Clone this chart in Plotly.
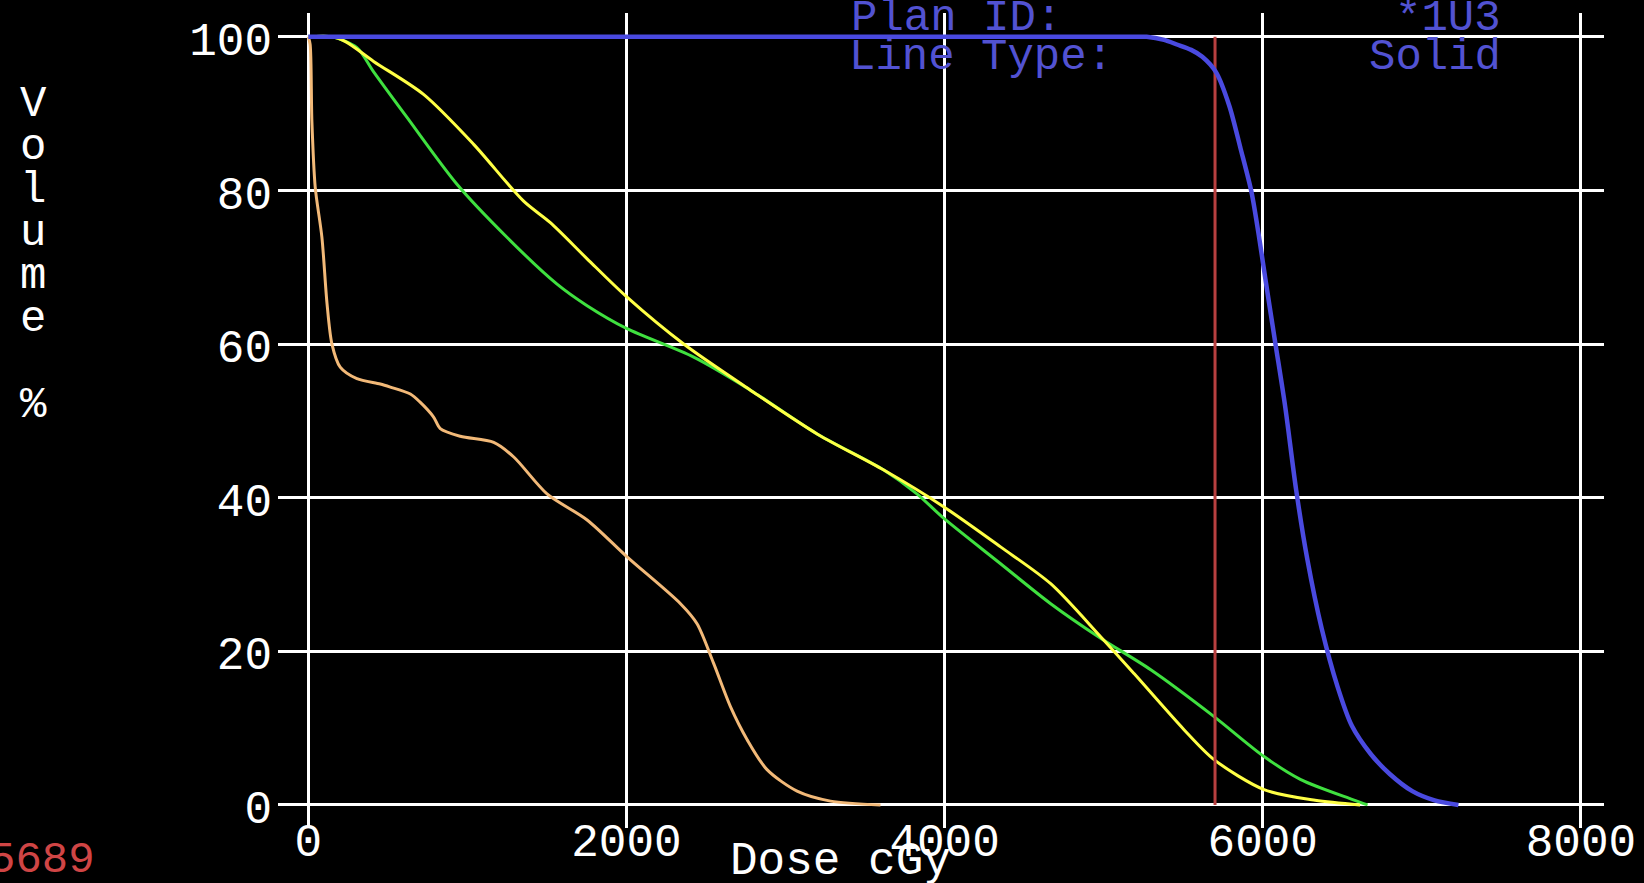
import plotly.graph_objects as go

# ---- data ----
x_ticks = [0, 2000, 4000, 6000, 8000]
y_ticks = [0, 20, 40, 60, 80, 100]

blue_x = [0, 4800, 5150, 5270, 5380, 5460, 5550, 5620, 5706, 5790, 5860, 5930, 5980, 6020, 6080, 6140, 6210, 6280, 6370, 6470, 6560, 6680, 6800, 6940, 7080, 7230]
blue_y = [100, 100, 100, 100, 99.6, 99, 98.3, 97.4, 95.4, 91, 85.5, 79.7, 73.5, 68, 60, 52, 41, 32, 23, 15.4, 10.3, 6.6, 4.0, 1.8, 0.6, 0]

yellow_x = [0, 150, 240, 411, 725, 1040, 1354, 1522, 1753, 2004, 2360, 2780, 3199, 3618, 3996, 4352, 4667, 4981, 5191, 5505, 5694, 6008, 6329, 6612]
yellow_y = [100, 100, 99.3, 96.8, 92.5, 86, 78.6, 75.8, 71.1, 66.1, 60, 54, 48.3, 43.6, 38.8, 33.6, 28.8, 21.9, 17.1, 9.8, 5.9, 2.0, 0.6, 0]

green_x = [0, 150, 306, 409, 621, 935, 1249, 1564, 1753, 2004, 2423, 2780, 3199, 3618, 3826, 3996, 4352, 4667, 4981, 5296, 5694, 6008, 6239, 6565, 6659]
green_y = [100, 100, 98.6, 95.5, 89.5, 80.8, 73.9, 67.8, 65, 62, 58.3, 54, 48.3, 43.6, 40.5, 37.3, 31.4, 26.2, 21.7, 17.6, 11.5, 6.3, 3.3, 0.7, 0]

orange_x = [0, 12, 23, 44, 86, 118, 149, 201, 306, 453, 516, 642, 700, 788, 830, 956, 1166, 1292, 1501, 1753, 2004, 2340, 2444, 2549, 2654, 2759, 2884, 3073, 3283, 3597]
orange_y = [100, 99, 89, 80.4, 73.9, 65.3, 60, 57, 55.5, 54.8, 54.4, 53.5, 52.5, 50.5, 49, 48, 47.2, 45.3, 40.5, 37.1, 32.3, 26.2, 23.6, 18.4, 12.8, 8.5, 4.6, 1.8, 0.5, 0]

ref_dose = [5700, 5700]
ref_vol = [0, 100]

y_title_chars = ["V", "o", "l", "u", "m", "e", "", "%"]

# ---- layout geometry ----
W, H = 1644, 883
ML, MR, MT, MB = 278, 40, 13, 55
PW, PH = W - ML - MR, H - MT - MB

def px(xp):
    return (xp - ML) / PW

def py(yp):
    return (H - MB - yp) / PH

FONT = "Liberation Mono"
BLUE_TXT = "#5252d2"

fig = go.Figure()
fig.add_trace(go.Scatter(x=orange_x, y=orange_y, mode="lines",
                         line=dict(color="#f2b978", width=3, shape="spline", smoothing=0.8)))
fig.add_trace(go.Scatter(x=green_x, y=green_y, mode="lines",
                         line=dict(color="#3fe03f", width=3, shape="spline", smoothing=0.8)))
fig.add_trace(go.Scatter(x=yellow_x, y=yellow_y, mode="lines",
                         line=dict(color="#ffff45", width=3, shape="spline", smoothing=0.8)))
fig.add_trace(go.Scatter(x=ref_dose, y=ref_vol, mode="lines",
                         line=dict(color="#b84040", width=3)))
fig.add_trace(go.Scatter(x=blue_x, y=blue_y, mode="lines",
                         line=dict(color="#4a4ae0", width=4.5, shape="spline", smoothing=0.8)))

anns = []
anns.append(dict(text="Plan ID:", x=px(849), y=py(18), xanchor="left", yanchor="middle",
                 font=dict(color=BLUE_TXT, size=44, family=FONT)))
anns.append(dict(text="Line Type:", x=px(847), y=py(57), xanchor="left", yanchor="middle",
                 font=dict(color=BLUE_TXT, size=44, family=FONT)))
anns.append(dict(text="*1U3", x=px(1503), y=py(18), xanchor="right", yanchor="middle",
                 font=dict(color=BLUE_TXT, size=44, family=FONT)))
anns.append(dict(text="Solid", x=px(1503), y=py(57), xanchor="right", yanchor="middle",
                 font=dict(color=BLUE_TXT, size=44, family=FONT)))
anns.append(dict(text="Dose cGy", x=px(840), y=py(862), xanchor="center", yanchor="middle",
                 font=dict(color="white", size=46, family=FONT)))
anns.append(dict(text="5689", x=px(97), y=py(860), xanchor="right", yanchor="middle",
                 font=dict(color="#d04545", size=44, family=FONT)))
for i, ch in enumerate(y_title_chars):
    if ch:
        anns.append(dict(text=ch, x=px(33), y=py(104 + 43 * i), xanchor="center", yanchor="middle",
                         font=dict(color="white", size=44, family=FONT)))
for a in anns:
    a.update(xref="paper", yref="paper", showarrow=False)

fig.update_layout(
    width=W, height=H,
    margin=dict(l=ML, r=MR, t=MT, b=MB, pad=0, autoexpand=False),
    paper_bgcolor="black", plot_bgcolor="black",
    showlegend=False,
    annotations=anns,
    xaxis=dict(range=[-190, 8145], tickvals=x_ticks, ticktext=[str(v) for v in x_ticks],
               showgrid=True, gridcolor="white", gridwidth=2.5, zeroline=False, showline=False,
               ticks="", tickfont=dict(color="white", size=46, family=FONT), fixedrange=True,
               automargin=False, ticklabelstandoff=-19),
    yaxis=dict(range=[-3, 103.1], tickvals=y_ticks, ticktext=[str(v) for v in y_ticks],
               showgrid=True, gridcolor="white", gridwidth=2.5, zeroline=False, showline=False,
               ticks="", tickfont=dict(color="white", size=46, family=FONT), fixedrange=True,
               ticklabelshift=2, ticklabelstandoff=5, automargin=False),
)

fig.write_html("out.html", config=dict(displayModeBar=False),
               post_script="document.body.style.margin='0';document.body.style.background='black';document.body.style.overflow='hidden';")
